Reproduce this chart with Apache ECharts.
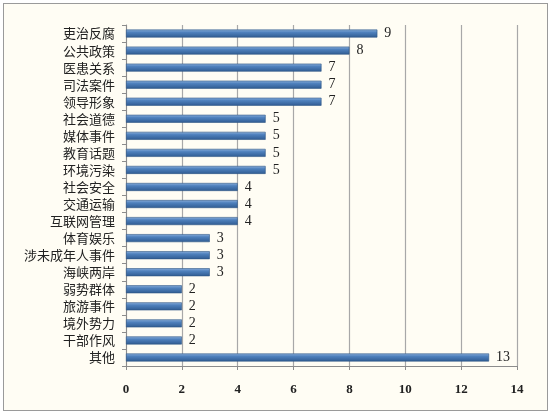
<!DOCTYPE html>
<html>
<head>
<meta charset="utf-8">
<script src="https://cdn.jsdelivr.net/npm/echarts@6/dist/echarts.min.js"></script>
<style>
html,body{margin:0;padding:0;background:#fff;}
#main{position:absolute;left:3px;top:3px;width:543px;height:406px;border:1px solid #9a9a9a;background:#fffdf4;}
</style>
</head>
<body>
<div id="main"></div>
<script>
// 类别（从上到下）
var categories = ['吏治反腐','公共政策','医患关系','司法案件','领导形象','社会道德','媒体事件','教育话题','环境污染','社会安全','交通运输','互联网管理','体育娱乐','涉未成年人事件','海峡两岸','弱势群体','旅游事件','境外势力','干部作风','其他'];
var counts = [9,8,7,7,7,5,5,5,5,4,4,4,3,3,3,2,2,2,2,13];
var xTicks = {min:0, max:14, interval:2};

var chart = echarts.init(document.getElementById('main'));
var option = {
	backgroundColor:'#fffdf4',
	animation:false,
	grid:{left:122, right:30, top:21, bottom:44},
	xAxis:{
		type:'value',
		min:xTicks.min,
		max:xTicks.max,
		interval:xTicks.interval,
		axisLine:{show:true, lineStyle:{color:'#8c8c8c', width:1}},
		axisTick:{show:true, length:4, lineStyle:{color:'#8c8c8c'}},
		axisLabel:{color:'#222', fontFamily:'Liberation Serif', fontWeight:'bold', fontSize:13, margin:17},
		splitLine:{show:true, lineStyle:{color:'#a8a8a8', width:1.2}}
	},
	yAxis:{
		type:'category',
		inverse:true,
		data:categories,
		axisLine:{show:true, lineStyle:{color:'#8c8c8c', width:1}},
		axisTick:{show:true, length:4, lineStyle:{color:'#8c8c8c'}},
		axisLabel:{color:'#222', fontFamily:'Noto Sans CJK SC', fontSize:13, margin:11}
	},
	series:[{
		type:'bar',
		data:counts,
		barWidth:8,
		itemStyle:{
			color:new echarts.graphic.LinearGradient(0,0,0,1,[
				{offset:0, color:'#8cb0dc'},
				{offset:0.35, color:'#4f81bd'},
				{offset:1, color:'#2f5b91'}
			]),
			borderColor:'#2e5585',
			borderWidth:0.6
		},
		label:{show:true, position:'right', distance:7, color:'#222', fontFamily:'Liberation Serif', fontSize:14}
	}]
};
chart.setOption(option);
</script>
</body>
</html>
